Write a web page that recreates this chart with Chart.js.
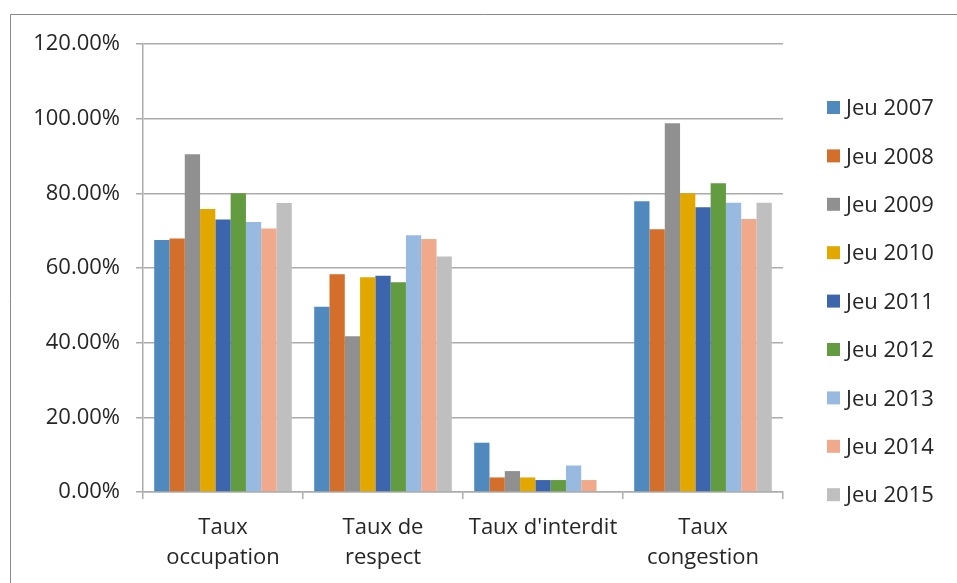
<!DOCTYPE html>
<html>
<head>
<meta charset="utf-8">
<script src="https://cdn.jsdelivr.net/npm/chart.js@4.4.0/dist/chart.umd.min.js"></script>
<style>
  html, body { margin: 0; padding: 0; background: #fff; }
  #wrap { width: 957px; height: 583px; position: relative; }
</style>
</head>
<body>
<div id="wrap"><canvas id="chart" width="957" height="583"></canvas></div>
<script>
// categories and tick labels
const categories = [['Taux', 'occupation'], ['Taux de', 'respect'], "Taux d'interdit", ['Taux', 'congestion']];
const seriesNames = ['Jeu 2007', 'Jeu 2008', 'Jeu 2009', 'Jeu 2010', 'Jeu 2011', 'Jeu 2012', 'Jeu 2013', 'Jeu 2014', 'Jeu 2015'];
const seriesColors = ['#4F89BD', '#D46E2B', '#909090', '#E2A800', '#3C65AD', '#629B40', '#99BAE0', '#F0A98A', '#BFBFBF'];

// values in percent, one array per year
const jeu2007 = [67.5, 49.6, 13.2, 77.9];
const jeu2008 = [67.9, 58.3, 3.9, 70.4];
const jeu2009 = [90.5, 41.7, 5.6, 98.8];
const jeu2010 = [75.8, 57.5, 3.9, 80.0];
const jeu2011 = [73.0, 57.9, 3.2, 76.3];
const jeu2012 = [80.0, 56.2, 3.2, 82.7];
const jeu2013 = [72.3, 68.8, 7.1, 77.5];
const jeu2014 = [70.6, 67.8, 3.2, 73.1];
const jeu2015 = [77.4, 63.1, null, 77.5];
const allSeries = [jeu2007, jeu2008, jeu2009, jeu2010, jeu2011, jeu2012, jeu2013, jeu2014, jeu2015];

const yMin = 0;
const yMax = 120;
const yStep = 20;

const FONT = "'Open Sans', 'DejaVu Sans', sans-serif";
const TEXT = '#262626';
const GRID = '#ababab';

// frame around the chart (left and top edges visible)
const framePlugin = {
  id: 'frame',
  beforeDraw(chart) {
    const ctx = chart.ctx;
    ctx.save();
    ctx.strokeStyle = '#8a8a8a';
    ctx.lineWidth = 1;
    ctx.beginPath();
    ctx.moveTo(10.5, chart.height);
    ctx.lineTo(10.5, 14.5);
    ctx.lineTo(chart.width, 14.5);
    ctx.stroke();
    ctx.restore();
  }
};

// legend on the right, drawn from the datasets
const legendPlugin = {
  id: 'sideLegend',
  afterDraw(chart) {
    const ctx = chart.ctx;
    ctx.save();
    ctx.font = '22px ' + FONT;
    ctx.textBaseline = 'middle';
    chart.data.datasets.forEach((ds, i) => {
      const y = 108 + i * 48.4;
      ctx.fillStyle = ds.backgroundColor;
      ctx.fillRect(827, y - 7, 13, 13);
      ctx.fillStyle = TEXT;
      ctx.fillText(ds.label, 846, y + 1);
    });
    ctx.restore();
  }
};

new Chart(document.getElementById('chart'), {
  type: 'bar',
  data: {
    labels: categories,
    datasets: allSeries.map((vals, i) => ({
      label: seriesNames[i],
      data: vals,
      backgroundColor: seriesColors[i],
      borderWidth: 0,
      categoryPercentage: 0.86,
      barPercentage: 1.0
    }))
  },
  options: {
    responsive: false,
    animation: false,
    layout: { padding: { top: 44, right: 174, bottom: 0, left: 0 } },
    plugins: {
      legend: { display: false },
      tooltip: { enabled: false }
    },
    scales: {
      x: {
        offset: true,
        afterFit(scale) { scale.height = 91; },
        grid: { display: true, offset: true, drawOnChartArea: false, drawTicks: true, tickLength: 7, color: GRID, lineWidth: 1.5 },
        border: { display: true, color: GRID, width: 1.5 },
        ticks: { color: TEXT, font: { family: FONT, size: 22, lineHeight: 1.4 }, padding: 13, maxRotation: 0, autoSkip: false }
      },
      y: {
        min: yMin,
        max: yMax,
        afterFit(scale) { scale.width = 143; },
        grid: { color: GRID, lineWidth: 1.5, drawTicks: true, tickLength: 7 },
        border: { display: true, color: GRID, width: 1.5 },
        ticks: {
          stepSize: yStep,
          color: TEXT,
          padding: 16,
          font: { family: FONT, size: 22 },
          callback: (v) => v.toFixed(2) + '%'
        }
      }
    }
  },
  plugins: [framePlugin, legendPlugin]
});
</script>
</body>
</html>
